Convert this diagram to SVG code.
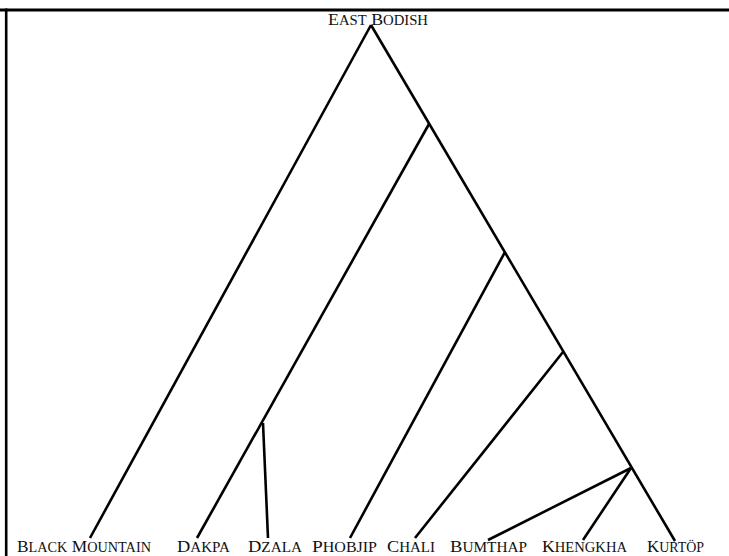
<svg xmlns="http://www.w3.org/2000/svg" width="729" height="556" viewBox="0 0 729 556">
<style>
.lbl{font-family:"Liberation Serif","DejaVu Serif",serif;font-size:17px;fill:#111;text-transform:uppercase}
.s{font-size:14px}
.ln{stroke:#000;stroke-width:2.6;fill:none;stroke-linecap:butt}
.frame{stroke:#000;fill:none}
</style>
<rect width="729" height="556" fill="#fff"/>
<g id="frame">
<line class="frame" x1="0" y1="10" x2="729" y2="10" stroke-width="3"/>
<line class="frame" x1="6.2" y1="8.5" x2="6.2" y2="556" stroke-width="2.6"/>
</g>
<g id="connectors">
<line class="ln" x1="371" y1="25" x2="90" y2="538"/>
<line class="ln" x1="371" y1="25" x2="675" y2="541"/>
<line class="ln" x1="429" y1="124" x2="197" y2="538"/>
<line class="ln" x1="263" y1="423" x2="268" y2="538"/>
<line class="ln" x1="505" y1="252" x2="350" y2="538"/>
<line class="ln" x1="563" y1="352" x2="415" y2="538"/>
<line class="ln" x1="631" y1="468" x2="488" y2="540"/>
<line class="ln" x1="631" y1="468" x2="583" y2="540"/>
</g>
<g id="east-bodish"><text class="lbl" x="328" y="25" textLength="100" lengthAdjust="spacingAndGlyphs">E<tspan class="s">ast</tspan> B<tspan class="s">odish</tspan></text></g>
<g id="black-mountain"><text class="lbl" x="17" y="552" textLength="134" lengthAdjust="spacingAndGlyphs">B<tspan class="s">lack</tspan> M<tspan class="s">ountain</tspan></text></g>
<g id="dakpa"><text class="lbl" x="177" y="552" textLength="53" lengthAdjust="spacingAndGlyphs">D<tspan class="s">akpa</tspan></text></g>
<g id="dzala"><text class="lbl" x="248" y="552" textLength="54" lengthAdjust="spacingAndGlyphs">D<tspan class="s">zala</tspan></text></g>
<g id="phobjip"><text class="lbl" x="312" y="552" textLength="65" lengthAdjust="spacingAndGlyphs">P<tspan class="s">hobjip</tspan></text></g>
<g id="chali"><text class="lbl" x="387" y="552" textLength="48" lengthAdjust="spacingAndGlyphs">C<tspan class="s">hali</tspan></text></g>
<g id="bumthap"><text class="lbl" x="450" y="552" textLength="77" lengthAdjust="spacingAndGlyphs">B<tspan class="s">umthap</tspan></text></g>
<g id="khengkha"><text class="lbl" x="542" y="552" textLength="85" lengthAdjust="spacingAndGlyphs">K<tspan class="s">hengkha</tspan></text></g>
<g id="kurtop"><text class="lbl" x="647" y="552" textLength="57" lengthAdjust="spacingAndGlyphs">K<tspan class="s">urtöp</tspan></text></g>
</svg>
